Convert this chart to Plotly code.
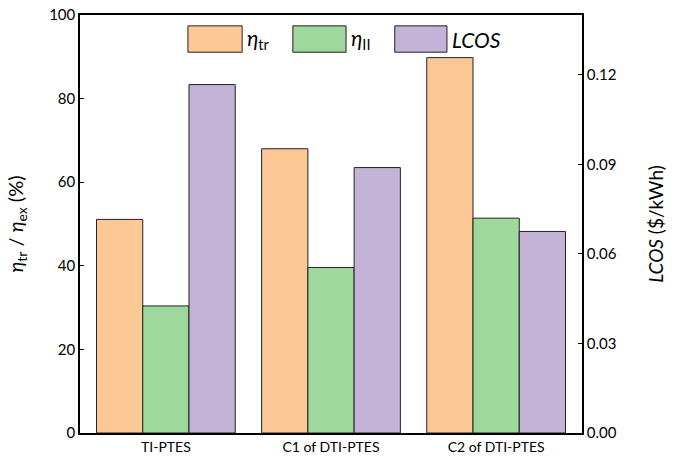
import plotly.graph_objects as go

categories = ["TI-PTES", "C1 of DTI-PTES", "C2 of DTI-PTES"]
eta_tr = [51.1, 68.0, 89.8]
eta_II = [30.4, 39.6, 51.4]
lcos = [0.1167, 0.0889, 0.0675]

left_ticks = [0, 20, 40, 60, 80, 100]
right_ticks = [0.00, 0.03, 0.06, 0.09, 0.12]
right_tick_text = ["0.00", "0.03", "0.06", "0.09", "0.12"]

colors = ["#FCC896", "#9ED89C", "#C3B3D7"]
edge = "#222222"
FONT = "Lato"

fig = go.Figure()
bw = 0.28
fig.add_trace(go.Bar(x=categories, y=eta_tr, width=bw, offset=-1.5 * bw,
                     marker=dict(color=colors[0], line=dict(color=edge, width=1)),
                     name="η<sub>tr</sub>", showlegend=False))
fig.add_trace(go.Bar(x=categories, y=eta_II, width=bw, offset=-0.5 * bw,
                     marker=dict(color=colors[1], line=dict(color=edge, width=1)),
                     name="η<sub>II</sub>", showlegend=False))
fig.add_trace(go.Bar(x=categories, y=lcos, width=bw, offset=0.5 * bw, yaxis="y2",
                     marker=dict(color=colors[2], line=dict(color=edge, width=1)),
                     name="LCOS", showlegend=False))

# legend drawn as large swatches (paper coords)
legend_items = [("<i>η</i><sub>tr</sub>", 0.215, 0.323),
                ("<i>η</i><sub>II</sub>", 0.424, 0.530),
                ("<i>LCOS</i>", 0.627, 0.731)]
for (label, x0, x1), c in zip(legend_items, colors):
    fig.add_shape(type="rect", xref="paper", yref="paper", x0=x0, x1=x1,
                  y0=0.911, y1=0.974, fillcolor=c, line=dict(color=edge, width=1))
    fig.add_annotation(xref="paper", yref="paper", x=x1 + 0.006, y=0.942,
                       xanchor="left", yanchor="middle", text=label, showarrow=False,
                       font=dict(family=FONT, size=21, color="black"))

fig.update_layout(
    width=683, height=459,
    margin=dict(l=80, r=101, t=15, b=26, autoexpand=False),
    paper_bgcolor="white", plot_bgcolor="white",
    font=dict(family=FONT, size=15, color="black"),
    barmode="overlay",
    xaxis=dict(range=[-0.52, 2.52], showline=True, linecolor="black", linewidth=2,
               mirror=True, ticks="", tickfont=dict(size=14), automargin=False),
    yaxis=dict(range=[0, 100], tickvals=left_ticks, showline=True, linecolor="black",
               linewidth=1.5, ticks="inside", ticklen=4, tickcolor="black",
               showgrid=False, zeroline=False, automargin=False,
               ticklabeloverflow="allow",
               title=dict(text="<i>η</i><sub>tr</sub> / <i>η</i><sub>ex</sub> (%)",
                          font=dict(size=20), standoff=20)),
    yaxis2=dict(range=[0, 0.14], tickvals=right_ticks, ticktext=right_tick_text,
                overlaying="y", side="right", showline=True, linecolor="black",
                linewidth=1.5, ticks="inside", ticklen=4, tickcolor="black",
                showgrid=False, zeroline=False, automargin=False,
                ticklabeloverflow="allow",
                title=dict(text="<i>LCOS</i> ($/kWh)", font=dict(size=19), standoff=34)),
)

fig.write_html("out.html", config={"displayModeBar": False},
               post_script="document.body.style.margin='0';")
